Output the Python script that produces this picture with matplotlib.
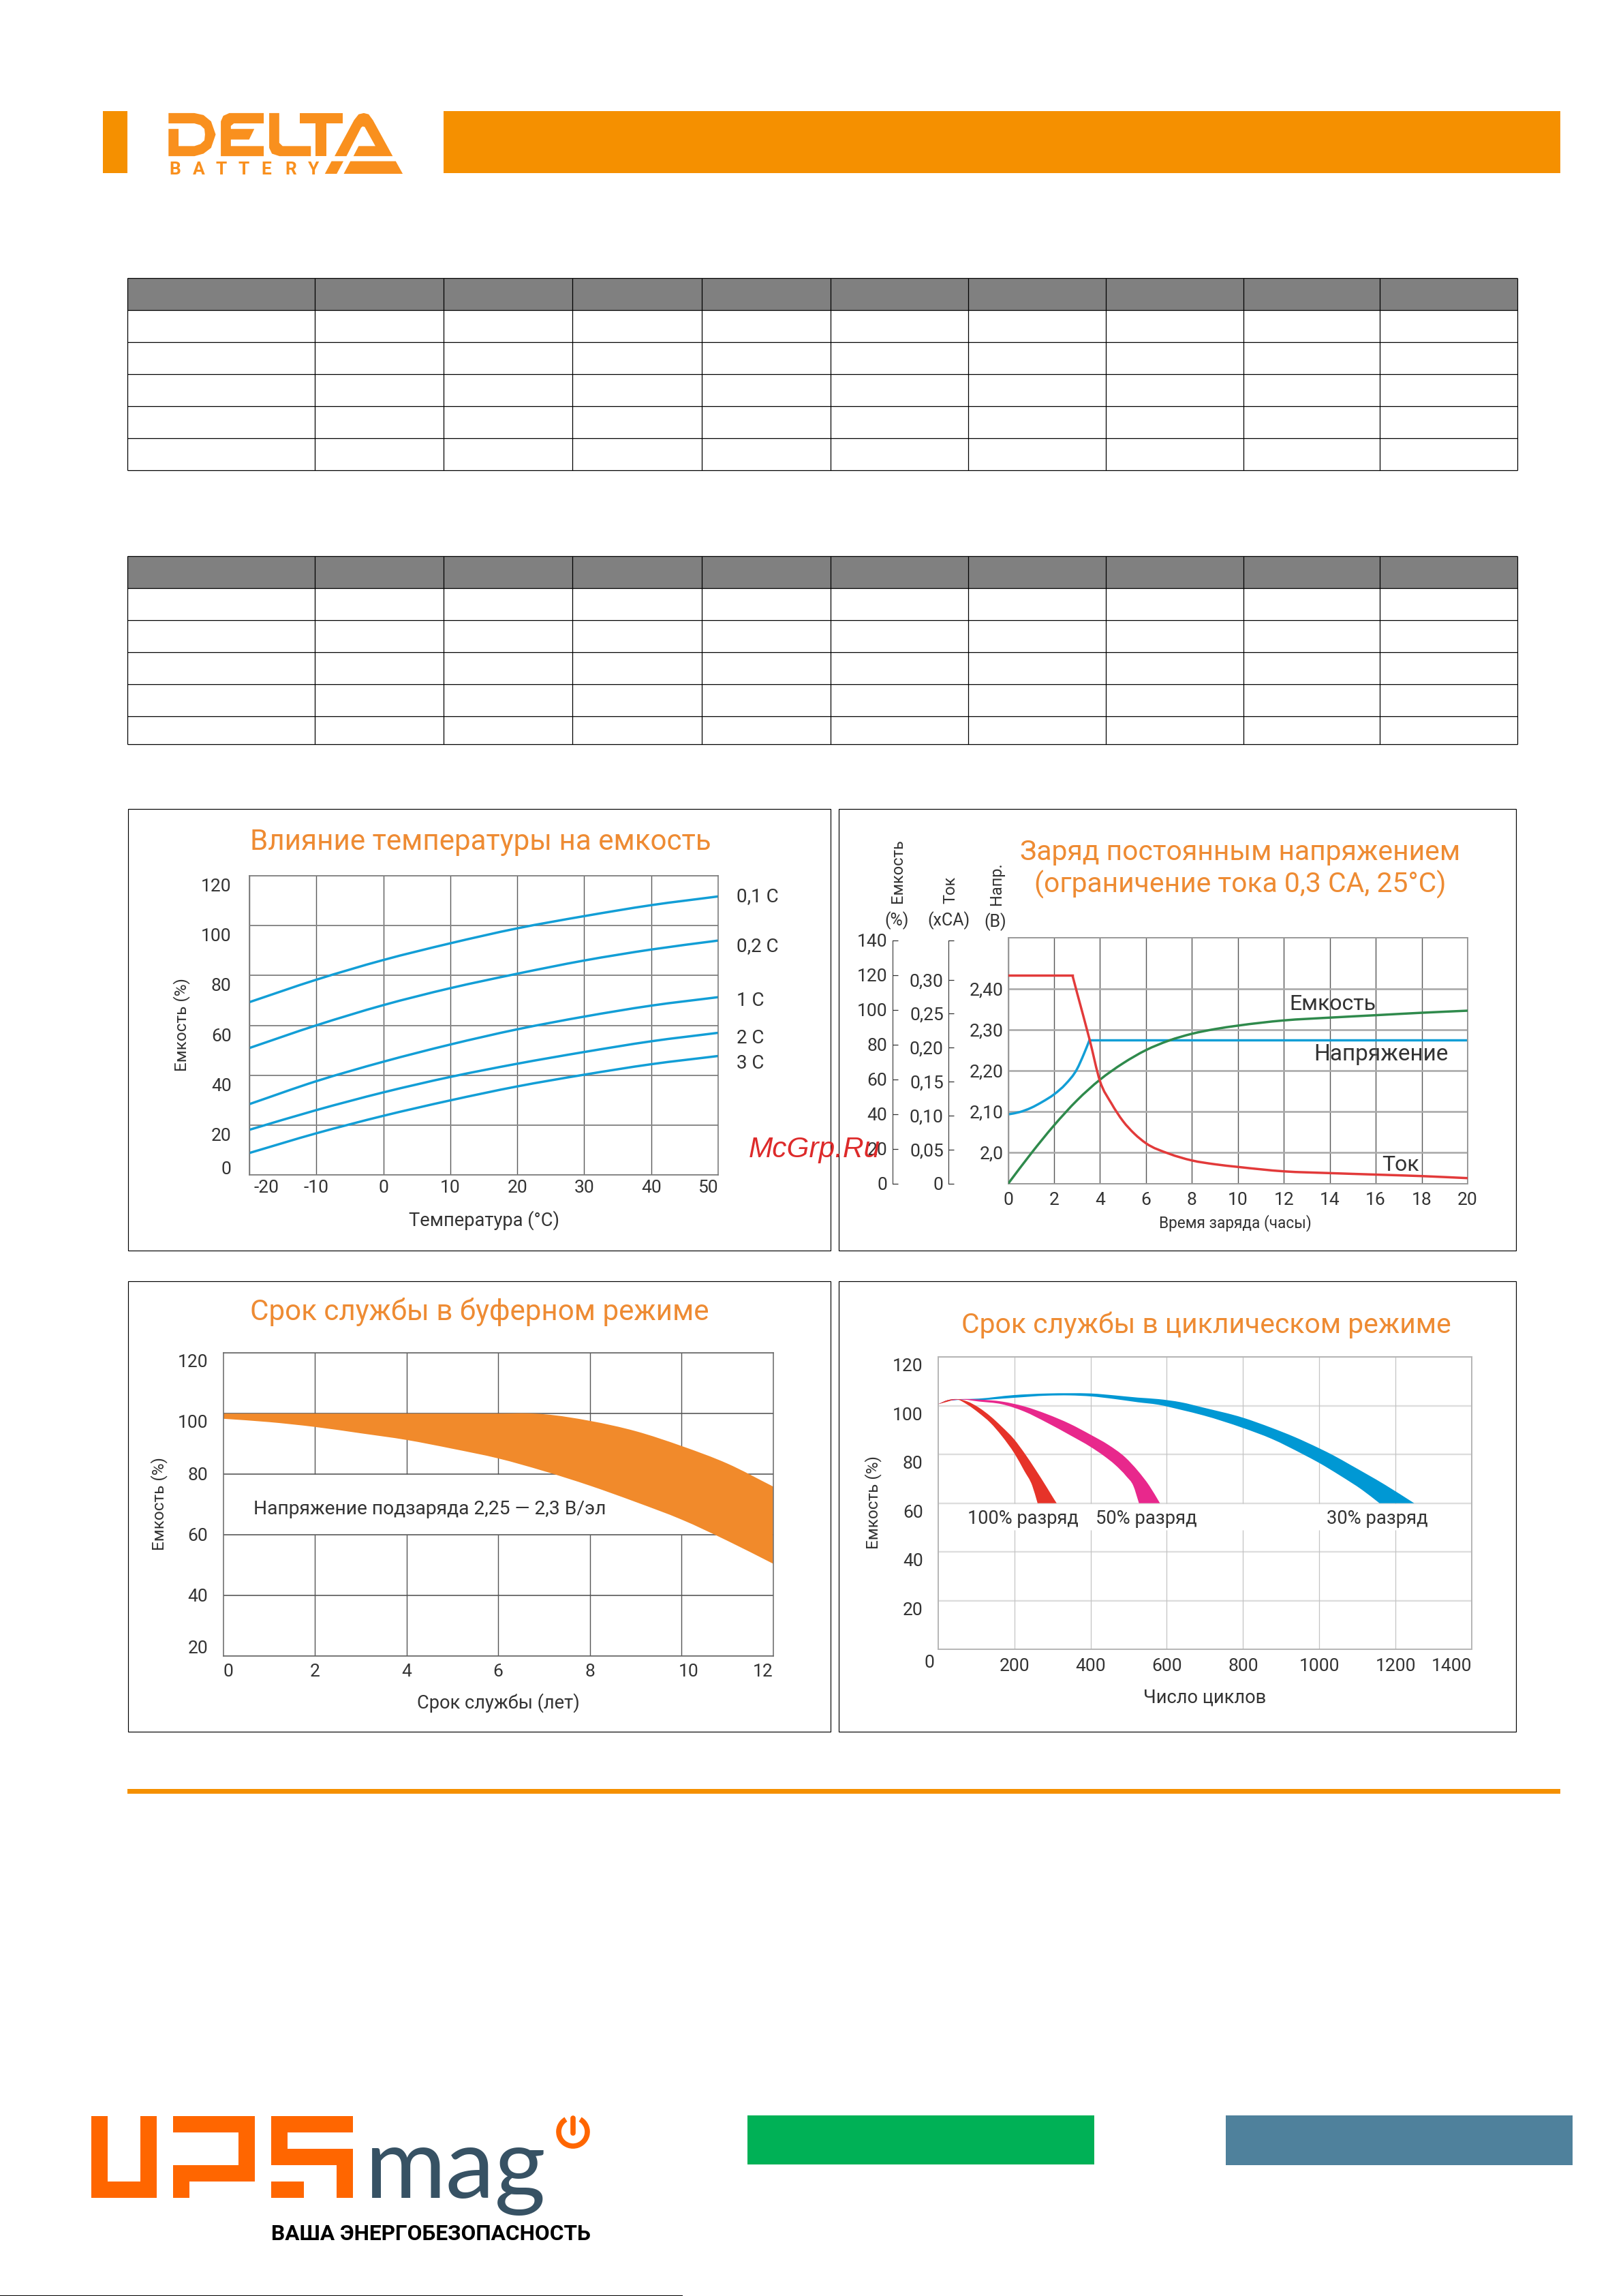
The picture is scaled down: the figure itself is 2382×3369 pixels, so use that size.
import matplotlib
matplotlib.use("Agg")
import matplotlib.pyplot as plt
from matplotlib.patches import Polygon, Rectangle, Arc, PathPatch
from matplotlib.path import Path
from matplotlib.transforms import ScaledTranslation

W, H = 2382, 3369
plt.rcParams['font.family'] = ['Roboto', 'DejaVu Sans']
TICK_SIZE = 19

# ---------- data ----------
table_cols = [187.3, 462.3, 651, 840, 1030, 1219, 1421, 1623, 1825, 2025, 2227]
table1_rows = [407.5, 454.5, 501.5, 548.5, 595.5, 642.5, 689.5]
table2_rows = [816.3, 863.3, 910.3, 957.3, 1004.3, 1051.3, 1092.3]

temp_x = [-20, -10, 0, 10, 20, 30, 40, 50]
temp_01c = [69.3, 78.3, 86.2, 92.9, 98.9, 103.8, 108.2, 111.7]
temp_02c = [50.9, 60.0, 68.1, 74.9, 80.7, 86.0, 90.4, 94.0]
temp_1c = [28.4, 37.6, 45.4, 52.3, 58.4, 63.5, 67.9, 71.3]
temp_2c = [18.1, 26.0, 33.1, 39.3, 44.6, 49.3, 53.6, 57.0]
temp_3c = [8.8, 16.7, 23.7, 29.9, 35.5, 40.2, 44.4, 47.7]
temp_labels = ['0,1 С', '0,2 С', '1 С', '2 С', '3 С']
temp_xticks = [-20, -10, 0, 10, 20, 30, 40, 50]
temp_yticks = [0, 20, 40, 60, 80, 100, 120]

cap_h = [0, 1, 2, 3, 4, 5, 6, 7, 8, 9, 10, 12, 14, 16, 18, 20]
cap_pct = [0, 17.4, 33.6, 48, 59.9, 69.3, 76.9, 82.4, 86.3, 89, 91, 94, 95.6, 97, 98.4, 99.6]
cur_flat_h = [0, 2.8]
cur_flat_ca = [0.3065, 0.3065]
cur_h = [2.8, 3, 3.55, 4, 4.5, 5, 5.5, 6, 7, 8, 9, 10, 12, 14, 16, 18, 20]
cur_ca = [0.3065, 0.281, 0.2117, 0.1509, 0.118, 0.0922, 0.0735, 0.0596, 0.0443,
          0.0343, 0.0287, 0.0248, 0.0183, 0.0157, 0.0135, 0.0113, 0.0083]
volt_h = [0, 0.5, 1, 1.5, 2, 2.5, 3, 3.3, 3.55]
volt_v = [2.093, 2.0986, 2.109, 2.124, 2.142, 2.167, 2.204, 2.241, 2.276]
volt_flat_h = [3.55, 20]
volt_flat_v = [2.276, 2.276]
charge_xticks = list(range(0, 21, 2))
volt_ticks = [2.0, 2.1, 2.2, 2.3, 2.4]
volt_labels = ['2,0', '2,10', '2,20', '2,30', '2,40']
cap_ticks = [0, 20, 40, 60, 80, 100, 120, 140]
cur_ticks = [0, 0.05, 0.10, 0.15, 0.20, 0.25, 0.30, 0.358]
cur_labels = ['0', '0,05', '0,10', '0,15', '0,20', '0,25', '0,30', '']

float_up_x = [0, 1, 2, 3, 4, 5, 6, 6.8, 7, 8, 9, 10, 11, 12]
float_up_y = [100, 100, 100, 100, 100, 100, 100, 100, 99.8, 97.6, 94.2, 89.3, 83.5, 75.9]
float_lo_x = [0, 1, 2, 3, 4, 5, 6, 7, 8, 9, 10, 11, 12]
float_lo_y = [98.3, 97.2, 95.6, 93.5, 91.3, 88.4, 85.2, 81, 76.2, 70.8, 65, 58, 50.4]
float_xticks = [0, 2, 4, 6, 8, 10, 12]
float_yticks = [20, 40, 60, 80, 100, 120]

red_up_x = [0, 24, 48, 77, 107, 137, 167, 199, 229, 256, 286, 304, 311]
red_up_y = [100.6, 102.2, 102.7, 101.7, 99.2, 95.7, 91.4, 86.3, 80, 73.7, 66.3, 61.7, 60]
red_lo_x = [0, 24, 48, 77, 107, 137, 167, 201, 226, 247, 261]
red_lo_y = [100.6, 101.6, 102.6, 100.4, 97, 93, 87.6, 80.2, 73.3, 67.2, 60]
pink_up_x = [0, 24, 59.5, 107, 167, 226, 286, 345, 401, 446, 491, 524, 554, 582]
pink_up_y = [100.6, 102.2, 102.7, 102.5, 101.7, 99.7, 96.5, 92.6, 88.0, 84.0, 78.8, 73.3, 67.2, 60]
pink_lo_x = [0, 24, 59.5, 107, 167, 226, 286, 345, 401, 435, 464, 494, 512, 527]
pink_lo_y = [100.6, 101.8, 102.5, 101.7, 100.6, 97.6, 93.0, 88.0, 83, 79.4, 75.8, 71, 67.2, 60]
blue_up_x = [0, 24, 59.5, 107, 196, 286, 345, 401, 464, 524, 577, 637, 696, 799, 875, 934.5, 1000, 1036, 1083, 1173, 1249]
blue_up_y = [100.6, 102.2, 102.6, 102.9, 104.3, 105, 105.1, 105, 104.2, 103.3, 102.7, 101.4, 99.2, 95.1, 90.9, 87.2, 82.5, 79.7, 75.6, 67.5, 60]
blue_lo_x = [0, 24, 59.5, 107, 196, 286, 345, 401, 464, 524, 577, 637, 696, 799, 875, 958, 1000, 1054, 1113, 1158]
blue_lo_y = [100.6, 101.8, 102.4, 102.3, 103.2, 104.1, 104.2, 103.8, 102.7, 101.4, 100.4, 98.3, 96, 90.9, 86.4, 80, 76.5, 71.4, 65.4, 60]
cycle_xticks = [200, 400, 600, 800, 1000, 1200, 1400]
cycle_yticks = [20, 40, 60, 80, 100, 120]

# ---------- colours ----------
ORANGE = '#f59000'
TITLE = '#ee8b33'
TXT = '#333333'
LBLUE = '#129ed6'

fig = plt.figure(figsize=(W / 100, H / 100), dpi=100, facecolor='white')
ax0 = fig.add_axes([0, 0, 1, 1])
ax0.set_xlim(0, W)
ax0.set_ylim(H, 0)
ax0.axis('off')


def mkax(x0, y0, x1, y1):
    a = fig.add_axes([x0 / W, 1 - y1 / H, (x1 - x0) / W, (y1 - y0) / H])
    a.set_facecolor('none')
    return a


def T(x, y, s, size, color=TXT, ha='center', va='center', **kw):
    return ax0.text(x, y, s, fontsize=size, color=color, ha=ha, va=va, **kw)


def rect(x0, y0, x1, y1, color):
    ax0.add_patch(Rectangle((x0, y0), x1 - x0, y1 - y0, fc=color, ec='none'))


def style(a, color='#777777', lw=1.1):
    for s in a.spines.values():
        s.set_color(color)
        s.set_linewidth(lw)


def tick_font(a, size=TICK_SIZE):
    a.tick_params(labelsize=size)


def nudge(label, dx_px, dy_px):
    label.set_transform(label.get_transform() + ScaledTranslation(dx_px / 100, -dy_px / 100, fig.dpi_scale_trans))


def bezier(x, y):
    """Cubic Bezier path commands running through the read points."""
    n = len(x)
    m = []
    for i in range(n):
        if i == 0:
            m.append((y[1] - y[0]) / (x[1] - x[0]))
        elif i == n - 1:
            m.append((y[-1] - y[-2]) / (x[-1] - x[-2]))
        else:
            d0, d1 = x[i] - x[i - 1], x[i + 1] - x[i]
            s0, s1 = (y[i] - y[i - 1]) / d0, (y[i + 1] - y[i]) / d1
            m.append((s0 * d1 + s1 * d0) / (d0 + d1))
    v = []
    for i in range(n - 1):
        d = (x[i + 1] - x[i]) / 3
        v += [(x[i] + d, y[i] + m[i] * d), (x[i + 1] - d, y[i + 1] - m[i + 1] * d), (x[i + 1], y[i + 1])]
    return v


def curve(a, x, y, color, lw=2.5):
    v = [(x[0], y[0])] + bezier(x, y)
    c = [Path.MOVETO] + [Path.CURVE4] * (len(v) - 1)
    a.add_patch(PathPatch(Path(v, c), fc='none', ec=color, lw=lw, capstyle='butt'))


def band(a, xu, yu, xl, yl, color, z):
    vu = [(xu[0], yu[0])] + bezier(xu, yu)
    vl = bezier(xl[::-1], yl[::-1])
    v = vu + [(xl[-1], yl[-1])] + vl + [(xu[0], yu[0])]
    c = [Path.MOVETO] + [Path.CURVE4] * (len(vu) - 1) + [Path.LINETO] + [Path.CURVE4] * len(vl) + [Path.CLOSEPOLY]
    a.add_patch(PathPatch(Path(v, c), fc=color, ec='none', zorder=z))


# ---------- page header ----------
rect(151, 163, 187, 254, ORANGE)
rect(651, 163, 2290, 254, ORANGE)


def zl(pts):
    return [(100 + p[0] / 2.24, 130 + p[1] / 2.703) for p in pts]


delta_shapes = [
    [(330, 97), (415, 97), (445, 105), (470, 130), (485, 182), (470, 235), (445, 258), (415, 268), (330, 268),
     (330, 160), (363, 160), (363, 228), (415, 228), (435, 220), (448, 205), (450, 182), (448, 160), (435, 145),
     (415, 138), (330, 138)],
    [(530, 97), (643, 97), (643, 138), (545, 138), (535, 148), (535, 160), (612, 160), (595, 202), (535, 202),
     (535, 228), (643, 228), (643, 268), (502, 268), (502, 130), (510, 108)],
    [(661, 97), (694, 97), (694, 215), (705, 228), (798, 228), (798, 268), (695, 268), (670, 258), (661, 235)],
    [(761, 97), (903, 97), (903, 138), (849, 138), (849, 268), (814, 268), (814, 138), (761, 138)],
    [(876, 268), (940, 125), (955, 102), (972, 97), (988, 102), (1002, 125), (1067, 268), (938, 268), (955, 228),
     (1010, 228), (975, 152), (968, 150), (963, 155), (915, 268)],
    [(866, 288), (905, 288), (883, 338), (844, 338)],
    [(928, 288), (1077, 288), (1100, 338), (906, 338)],
]
for sh in delta_shapes:
    ax0.add_patch(Polygon(zl(sh), closed=True, fc='#f9901e', ec='none'))
for ch, cx in zip('BATTERY', [351, 430, 503, 577, 651, 732, 807]):
    T(100 + cx / 2.24, 246, ch, 19, color='#f9901e', fontweight='bold', va='center_baseline')

# ---------- tables ----------
for rows in (table1_rows, table2_rows):
    rect(table_cols[0], rows[0], table_cols[-1], rows[1], '#808080')
    ax0.hlines(rows, table_cols[0], table_cols[-1], color='black', lw=0.9)
    ax0.vlines(table_cols, rows[0], rows[-1], color='black', lw=0.9)

# ---------- chart frames ----------
frames = [(187.5, 1186.7, 1219.3, 1835), (1231.3, 1186.7, 2225, 1835),
          (187.5, 1879.5, 1219.3, 2540.5), (1231.3, 1879.5, 2225, 2540.5)]
for x0, y0, x1, y1 in frames:
    ax0.add_patch(Rectangle((x0, y0), x1 - x0, y1 - y0, fc='none', ec='black', lw=0.85))

# ---------- chart 1 ----------
a1 = mkax(366, 1285, 1054, 1724)
a1.set_xlim(-20, 50)
a1.set_ylim(0, 120)
style(a1)
a1.set_xticks(temp_xticks)
a1.set_xticklabels(['-20', '-10', '0', '10', '20', '30', '40', '50'])
a1.set_yticks(temp_yticks)
a1.set_yticklabels(['0', '20', '40', '60', '80', '100', '120'])
a1.tick_params(length=0, labelcolor=TXT, pad=5)
tick_font(a1)
a1.tick_params(axis='y', pad=19)
a1.grid(True, axis='x', color='#5a5a5a', lw=1.0)
a1.grid(True, axis='y', color='#888888', lw=1.4)
a1.set_axisbelow(True)
for lb in a1.get_yticklabels():
    lb.set_va('top')
    nudge(lb, 0, 4)
a1.get_yticklabels()[0].set_va('bottom')
a1.get_xticklabels()[0].set_ha('left')
nudge(a1.get_xticklabels()[0], 6, 0)
a1.get_xticklabels()[-1].set_ha('right')
for ser in (temp_01c, temp_02c, temp_1c, temp_2c, temp_3c):
    curve(a1, temp_x, ser, LBLUE)
for s, yy in zip(temp_labels, [1316, 1389, 1469, 1523.5, 1560]):
    T(1081, yy, s, 20, ha='left')
T(705, 1235, 'Влияние температуры на емкость', 30.3, color=TITLE)
T(711, 1791, 'Температура (°С)', 19.6)
T(267, 1504, 'Емкость (%)', 17.5, rotation=90)

# ---------- chart 2 ----------
mx0, my0, mx1, my1 = 1479.5, 1376.4, 2154, 1737
a2 = mkax(mx0, my0, mx1, my1)
a2.set_xlim(0, 20)
a2.set_ylim(1.923, 2.525)
style(a2, '#999999', 1.4)
a2.set_xticks(charge_xticks)
a2.set_yticks(volt_ticks)
a2.set_yticklabels(volt_labels)
a2.tick_params(length=0, labelcolor=TXT)
tick_font(a2)
a2.tick_params(axis='x', pad=9)
a2.tick_params(axis='y', pad=5)
a2.grid(True, axis='x', color='#555555', lw=1.0)
a2.grid(True, axis='y', color='#aaaaaa', lw=1.9)
a2.set_axisbelow(True)
curve(a2, volt_h, volt_v, LBLUE)
a2.plot(volt_flat_h, volt_flat_v, color=LBLUE, lw=2.5)

a2c = mkax(mx0, my0, mx1, my1)
a2c.set_xlim(0, 20)
a2c.set_ylim(0, 141.4)
a2c.xaxis.set_visible(False)
for k in ('top', 'right', 'bottom'):
    a2c.spines[k].set_visible(False)
a2c.spines['left'].set_position(('outward', (mx0 - 1310.4) * 0.72))
a2c.spines['left'].set_bounds(0, 140)
a2c.spines['left'].set_color(TXT)
a2c.set_yticks(cap_ticks)
a2c.tick_params(axis='y', direction='in', length=6, width=0.9, color=TXT, labelcolor=TXT, pad=6)
tick_font(a2c)
curve(a2c, cap_h, cap_pct, '#2f8a4c')

a2i = mkax(mx0, my0, mx1, my1)
a2i.set_xlim(0, 20)
a2i.set_ylim(0, 0.3613)
a2i.xaxis.set_visible(False)
for k in ('top', 'right', 'bottom'):
    a2i.spines[k].set_visible(False)
a2i.spines['left'].set_position(('outward', (mx0 - 1391.7) * 0.72))
a2i.spines['left'].set_bounds(0, 0.358)
a2i.spines['left'].set_color(TXT)
a2i.set_yticks(cur_ticks)
a2i.set_yticklabels(cur_labels)
a2i.tick_params(axis='y', direction='in', length=6, width=0.9, color=TXT, labelcolor=TXT, pad=5)
tick_font(a2i)
a2i.plot(cur_flat_h, cur_flat_ca, color='#e23a3a', lw=2.5)
curve(a2i, cur_h, cur_ca, '#e23a3a')

T(1820, 1250, 'Заряд постоянным напряжением', 29.4, color=TITLE)
T(1820, 1298, '(ограничение тока 0,3 СА, 25°С)', 29.4, color=TITLE)
T(1318, 1325, 'Емкость', 17, rotation=90, va='bottom')
T(1395, 1326, 'Ток', 17, rotation=90, va='bottom')
T(1463, 1328, 'Напр.', 17, rotation=90, va='bottom')
T(1316, 1351, '(%)', 18)
T(1392, 1351, '(xCA)', 18)
T(1461, 1353, '(В)', 18)
T(1892, 1473, 'Емкость', 23, ha='left')
T(1928, 1547, 'Напряжение', 24, ha='left')
T(2028, 1709, 'Ток', 23, ha='left')
T(1813, 1794.5, 'Время заряда (часы)', 16.3)

# ---------- chart 3 ----------
a3 = mkax(327.5, 1985.4, 1134.7, 2429.5)
a3.set_xlim(0, 12)
a3.set_ylim(20, 120)
style(a3, '#666666', 1.1)
a3.set_xticks(float_xticks)
a3.set_yticks(float_yticks)
a3.tick_params(length=0, labelcolor=TXT)
tick_font(a3)
a3.tick_params(axis='x', pad=8)
a3.tick_params(axis='y', pad=16)
a3.grid(True, axis='y', color='#666666', lw=1.3)
a3.set_axisbelow(True)
inner = float_xticks[1:-1]
a3.vlines(inner, 80, 120, color='#555555', lw=1.0, zorder=1)
a3.vlines(inner, 20, 60, color='#555555', lw=1.0, zorder=1)
band(a3, float_up_x, float_up_y, float_lo_x, float_lo_y, '#f18a2b', 2)
for lb, v in zip(a3.get_yticklabels(), float_yticks):
    lb.set_va('top' if v >= 100 else ('bottom' if v == 20 else 'center'))
    nudge(lb, 0, 2)
a3.get_xticklabels()[0].set_ha('left')
a3.get_xticklabels()[-1].set_ha('right')
nudge(a3.get_xticklabels()[-2], 11, 0)
T(704, 1925.5, 'Срок службы в буферном режиме', 30.3, color=TITLE)
T(731, 2499, 'Срок службы (лет)', 19.6)
T(234, 2207, 'Емкость (%)', 17.5, rotation=90)
T(371.5, 2214, 'Напряжение подзаряда 2,25 — 2,3 В/эл', 20.3, ha='left')

# ---------- chart 4 ----------
a4 = mkax(1376.8, 1991, 2160, 2420.4)
a4.set_xlim(0, 1400)
a4.set_ylim(0, 120)
style(a4, '#b5b5b5', 1.4)
a4.set_xticks([0] + cycle_xticks)
a4.set_xticklabels(['0', '200', '400', '600', '800', '1000', '1200', '1400'])
a4.set_yticks(cycle_yticks)
a4.tick_params(length=0, labelcolor=TXT)
tick_font(a4)
a4.tick_params(axis='x', pad=9)
a4.tick_params(axis='y', pad=16)
a4.grid(True, axis='y', color='#dddddd', lw=1.7)
a4.set_axisbelow(True)
inner = cycle_xticks[:-1]
a4.vlines(inner, 60, 120, color='#c4c4c4', lw=0.9, zorder=1)
a4.vlines(inner, 0, 49, color='#c4c4c4', lw=0.9, zorder=1)
band(a4, blue_up_x, blue_up_y, blue_lo_x, blue_lo_y, '#0098d4', 2)
band(a4, pink_up_x, pink_up_y, pink_lo_x, pink_lo_y, '#e8288c', 3)
band(a4, red_up_x, red_up_y, red_lo_x, red_lo_y, '#e63329', 4)
for lb in a4.get_yticklabels():
    lb.set_va('top')
    nudge(lb, 0, 2)
xl = a4.get_xticklabels()
xl[0].set_ha('right')
nudge(xl[0], -5, -5)
xl[-1].set_ha('right')
T(1770, 1944, 'Срок службы в циклическом режиме', 29.4, color=TITLE)
T(1768, 2491, 'Число циклов', 19.6)
T(1282, 2205, 'Емкость (%)', 17.5, rotation=90)
T(1420, 2229, '100% разряд', 19.5, ha='left')
T(1608, 2229, '50% разряд', 19.7, ha='left')
T(1947, 2229, '30% разряд', 19.7, ha='left')

# ---------- rule and footer ----------
rect(187, 2625, 2290, 2632, ORANGE)
rect(1097, 3104, 1606, 3176, '#00b156')
rect(1799, 3104, 2308, 3177, '#4f819c')
rect(0, 3367.5, 1002, 3369, 'black')


def zu(pts):
    return [(100 + p[0] / 1.96, 3060 + p[1] / 3) for p in pts]


ups_shapes = [
    [(66, 135), (114, 135), (114, 423), (208, 423), (208, 135), (255, 135), (255, 496), (66, 496)],
    [(302, 135), (537, 135), (537, 423), (349, 423), (349, 496), (302, 496), (302, 352), (490, 352), (490, 207), (302, 207)],
    [(584, 135), (820, 135), (820, 207), (632, 207), (632, 279), (820, 279), (820, 495), (772, 495), (772, 352), (584, 352)],
    [(584, 423), (678, 423), (678, 495), (584, 495)],
]
for sh in ups_shapes:
    ax0.add_patch(Polygon(zu(sh), closed=True, fc='#ff6600', ec='none'))
T(536, 3225, 'mag', 104, color='#375264', ha='left', va='baseline', family='Lato')
ax0.add_patch(Arc((841, 3128), 42, 42, theta1=-60, theta2=240, ec='#ff6600', lw=5.5))
ax0.plot([841, 841], [3108, 3130], color='#ff6600', lw=5.5, solid_capstyle='round')
T(398.5, 3278, 'ВАША ЭНЕРГОБЕЗОПАСНОСТЬ', 22.8, color='black', ha='left', fontweight='bold')

# watermark
fig.text(1099 / W, 1 - 1698 / H, 'McGrp.Ru', fontsize=30.5, color='#dd2a2a', style='italic',
         family='Liberation Sans', ha='left', va='baseline', zorder=10)

fig.savefig('out.png', dpi=100, facecolor='white')
